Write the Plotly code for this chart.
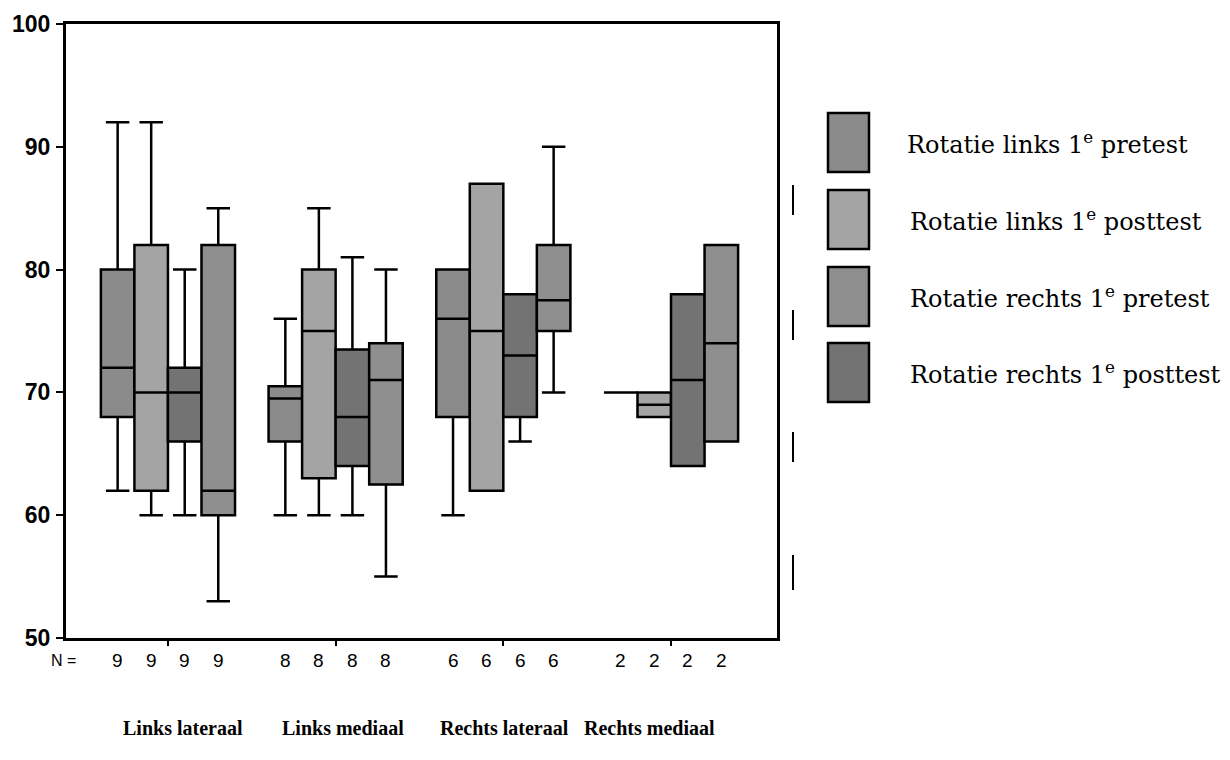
import plotly.graph_objects as go

# ---------------- data ----------------
categories = ["Links lateraal", "Links mediaal", "Rechts lateraal", "Rechts mediaal"]
series_names = ["Rotatie links 1<sup>e</sup> pretest", "Rotatie links 1<sup>e</sup> posttest",
                "Rotatie rechts 1<sup>e</sup> pretest", "Rotatie rechts 1<sup>e</sup> posttest"]
n_counts = [9, 8, 6, 2]

# per series: values for the four categories
s1_low = [62, 60, 60, 70]
s1_q1 = [68, 66, 68, 70]
s1_med = [72, 69.5, 76, 70]
s1_q3 = [80, 70.5, 80, 70]
s1_high = [92, 76, 80, 70]

s2_low = [60, 60, 62, 68]
s2_q1 = [62, 63, 62, 68]
s2_med = [70, 75, 75, 69]
s2_q3 = [82, 80, 87, 70]
s2_high = [92, 85, 87, 70]

s3_low = [60, 60, 66, 64]
s3_q1 = [66, 64, 68, 64]
s3_med = [70, 68, 73, 71]
s3_q3 = [72, 73.5, 78, 78]
s3_high = [80, 81, 78, 78]

s4_low = [53, 55, 70, 66]
s4_q1 = [60, 62.5, 75, 66]
s4_med = [62, 71, 77.5, 74]
s4_q3 = [82, 74, 82, 82]
s4_high = [85, 80, 90, 82]

y_ticks = [50, 60, 70, 80, 90, 100]

# ---------------- styling ----------------
box_colors = ["#8b8b8b", "#a4a4a4", "#737373", "#8f8f8f"]
legend_colors = ["#8b8b8b", "#a4a4a4", "#8f8f8f", "#737373"]
label_xshift = [15, 7, 1, -22]

series = [
    (s1_low, s1_q1, s1_med, s1_q3, s1_high),
    (s2_low, s2_q1, s2_med, s2_q3, s2_high),
    (s3_low, s3_q1, s3_med, s3_q3, s3_high),
    (s4_low, s4_q1, s4_med, s4_q3, s4_high),
]

fig = go.Figure()
for k, (lo, q1, med, q3, hi) in enumerate(series):
    fig.add_trace(go.Box(
        x=categories,
        lowerfence=lo, q1=q1, median=med, q3=q3, upperfence=hi,
        name=series_names[k],
        fillcolor=box_colors[k],
        line=dict(color="black", width=2.5),
        whiskerwidth=0.7,
        boxpoints=False,
        showlegend=False,
        hoverinfo="skip",
    ))

# plot-area geometry
L, R, T, B = 66, 453, 24, 122
W, H = 1230, 760
pw, ph = W - L - R, H - T - B

def px_to_paper_x(px):
    return (px - L) / pw

def px_to_paper_y(py):
    return (H - B - py) / ph

annotations = []
shapes = []

# N = row
annotations.append(dict(xref="paper", yref="paper", x=px_to_paper_x(63), y=0, xanchor="center",
                        yanchor="top", yshift=-12, text="N =", showarrow=False,
                        font=dict(family="Liberation Sans, Arial", size=16, color="black")))
n_series = len(series)
for i, n in enumerate(n_counts):
    for k in range(n_series):
        annotations.append(dict(xref="x", yref="paper", x=i + (k - 1.5) * 0.2, y=0,
                                xanchor="center", yanchor="top", yshift=-10,
                                text=str(n), showarrow=False,
                                font=dict(family="Liberation Sans, Arial", size=19, color="black")))

# category labels
for i, c in enumerate(categories):
    annotations.append(dict(xref="x", yref="paper", x=i, y=0, xanchor="center", yanchor="top",
                            yshift=-77, xshift=label_xshift[i], text=c, showarrow=False,
                            font=dict(family="Liberation Serif, serif", size=20, color="black",
                                      weight="bold")))

# custom legend
leg_top = [113, 190, 267, 343]
for k in range(n_series):
    y0 = px_to_paper_y(leg_top[k])
    y1 = px_to_paper_y(leg_top[k] + 59)
    shapes.append(dict(type="rect", xref="paper", yref="paper",
                       x0=px_to_paper_x(828), x1=px_to_paper_x(869), y0=y1, y1=y0,
                       fillcolor=legend_colors[k], line=dict(color="black", width=2.5)))
    annotations.append(dict(xref="paper", yref="paper", x=px_to_paper_x(905 if k == 0 else 908),
                            y=(y0 + y1) / 2, xanchor="left", yanchor="middle",
                            text=series_names[k],
                            showarrow=False,
                            font=dict(family="DejaVu Serif, serif", size=24, color="black")))

# small vertical marks right of frame (scan detail)
for (a, b) in [(185, 215), (310, 340), (432, 462), (555, 590)]:
    shapes.append(dict(type="line", xref="paper", yref="paper",
                       x0=px_to_paper_x(793), x1=px_to_paper_x(793),
                       y0=px_to_paper_y(a), y1=px_to_paper_y(b),
                       line=dict(color="black", width=2)))

fig.update_layout(
    width=W, height=H,
    margin=dict(l=L, r=R, t=T, b=B, pad=0),
    paper_bgcolor="white", plot_bgcolor="white",
    boxmode="group", boxgap=0.2, boxgroupgap=0,
    annotations=annotations, shapes=shapes,
    showlegend=False,
    xaxis=dict(type="category", range=[-0.608, 3.632], showgrid=False, zeroline=False,
               showline=True, linecolor="black", linewidth=3, mirror=True,
               ticks="outside", ticklen=5, tickcolor="black", tickwidth=2,
               showticklabels=False),
    yaxis=dict(range=[50, 100], tickvals=y_ticks, showgrid=False, zeroline=False,
               showline=True, linecolor="black", linewidth=3, mirror=True,
               ticks="outside", ticklen=7, tickcolor="black", tickwidth=2,
               tickfont=dict(family="Liberation Sans, Arial", size=23, color="black",
                             weight="bold"),
               ticklabelstandoff=1),
)

fig.write_html("out.html", config={"displayModeBar": False},
               post_script="document.body.style.margin='0';")
